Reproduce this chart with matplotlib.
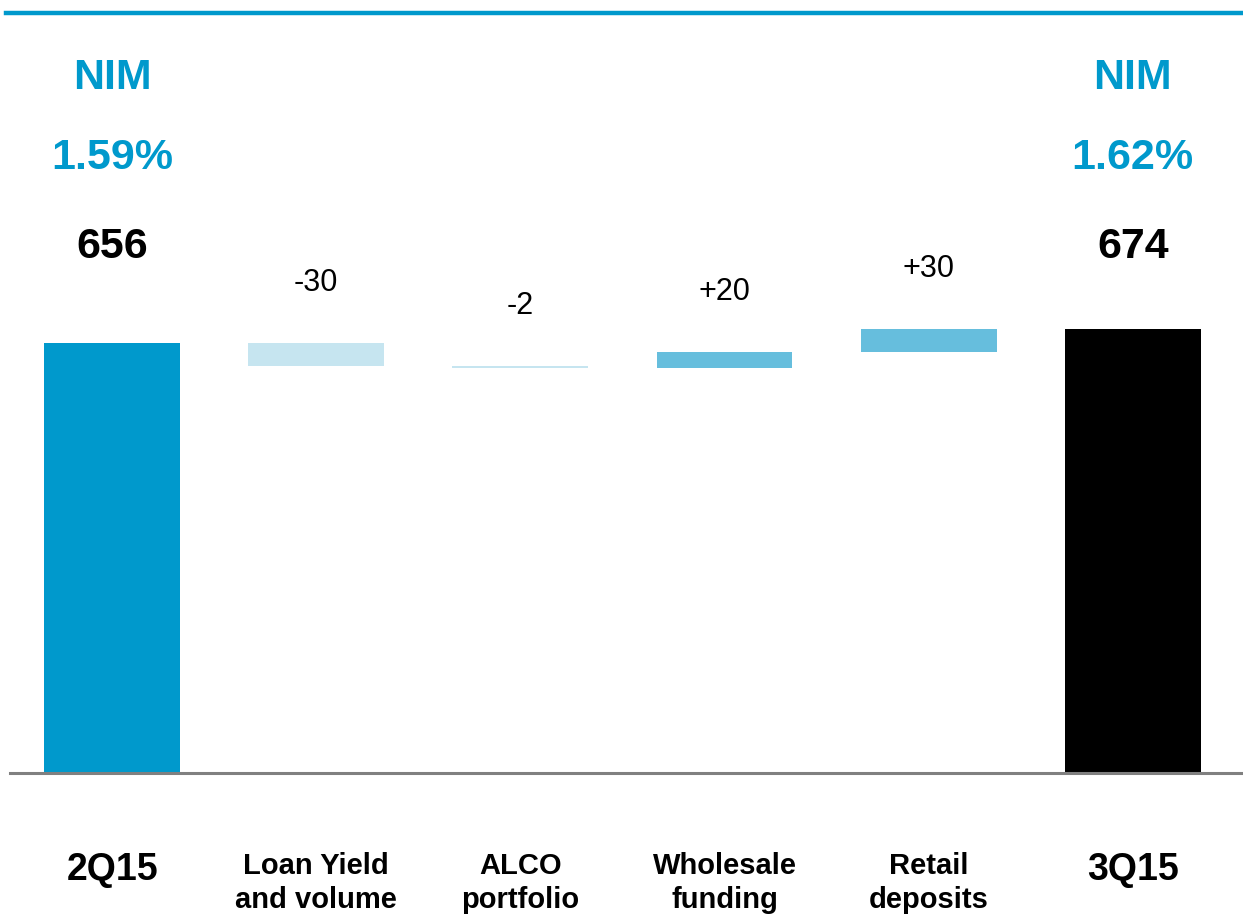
import matplotlib.pyplot as plt
from matplotlib.transforms import blended_transform_factory

plt.rcParams["font.family"] = ["Liberation Sans", "DejaVu Sans"]

categories = ["2Q15", "Loan Yield\nand volume", "ALCO\nportfolio",
              "Wholesale\nfunding", "Retail\ndeposits", "3Q15"]
start_total = 656
changes = [-30, -2, 20, 30]
end_total = 674
nim = ["1.59%", "1.62%"]

BLUE = "#0099cc"
NEG = "#c6e5f0"
POS = "#66bedd"

fig = plt.figure(figsize=(12.43, 9.17), dpi=100)
ax = fig.add_axes([10 / 1243, 1 - 773 / 917, 1233 / 1243, 773 / 917 - 0.01])

width = 0.665
# opening and closing totals
ax.bar(0, start_total, width=width, color=BLUE)
ax.bar(5, end_total, width=width, color="black")

# floating steps
level = start_total
step_tops = []
for i, delta in enumerate(changes, start=1):
    bottom = level + min(delta, 0)
    ax.bar(i, abs(delta), bottom=bottom, width=width,
           color=POS if delta > 0 else NEG)
    step_tops.append(max(level, level + delta))
    level += delta

for i, (delta, top) in enumerate(zip(changes, step_tops), start=1):
    ax.annotate(f"{delta:+d}", xy=(i, top), xytext=(0, 43),
                textcoords="offset points", ha="center", va="center",
                fontsize=22, color="black")

# header block above each total
trans = blended_transform_factory(ax.transData, fig.transFigure)
for x, total, rate in [(0, start_total, nim[0]), (5, end_total, nim[1])]:
    ax.text(x, 1 - 78 / 917, "NIM", transform=trans, ha="center", va="center",
            fontsize=31, fontweight="bold", color=BLUE)
    ax.text(x, 1 - 158 / 917, rate, transform=trans, ha="center", va="center",
            fontsize=31, fontweight="bold", color=BLUE)
    ax.text(x, 1 - 247 / 917, str(total), transform=trans, ha="center",
            va="center", fontsize=31, fontweight="bold", color="black")

ax.set_ylim(103, 103 + 773 / 0.778 * (773 / 917 - 0.01) / (773 / 917))
ax.set_xlim(-0.5, 5.54)

ax.set_xticks(range(len(categories)))
ax.set_xticklabels(categories, fontweight="bold", linespacing=1.28)
for j, lbl in enumerate(ax.get_xticklabels()):
    lbl.set_fontsize(27 if j in (0, 5) else 21)
ax.tick_params(axis="x", length=0, pad=57)
ax.set_yticks([])

for side in ["top", "left", "right"]:
    ax.spines[side].set_visible(False)
ax.spines["bottom"].set_color("#808080")
ax.spines["bottom"].set_linewidth(2.2)

# rule across the top of the slide
fig.add_artist(plt.Line2D([6 / 1243, 1], [1 - 13 / 917] * 2, color=BLUE,
                          linewidth=3.2, transform=fig.transFigure))

fig.savefig("out.png", dpi=100)
